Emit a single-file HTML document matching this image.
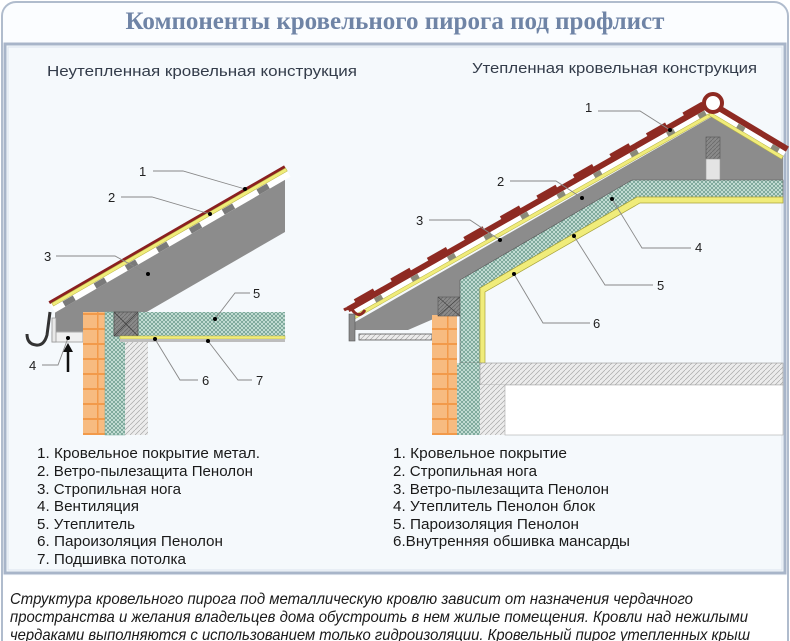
<!DOCTYPE html>
<html><head><meta charset="utf-8">
<style>
html,body{margin:0;padding:0;background:#fff;}
svg{display:block;}
</style></head><body>
<svg width="790" height="641" viewBox="0 0 790 641" xmlns="http://www.w3.org/2000/svg">
<defs>
<pattern id="cross" width="4" height="4" patternUnits="userSpaceOnUse">
<rect width="4" height="4" fill="#d2e8e0"/>
<path d="M0,0L4,4M4,0L0,4" stroke="#6f9e90" stroke-width="0.8"/>
</pattern>
<pattern id="hatch" width="5" height="5" patternUnits="userSpaceOnUse">
<rect width="5" height="5" fill="#ececec"/>
<path d="M0,5L5,0" stroke="#a8a8a8" stroke-width="0.7"/>
</pattern>
<pattern id="brick" width="25" height="15" patternUnits="userSpaceOnUse">
<rect width="25" height="15" fill="#f7bb80"/>
<rect x="0" y="13" width="25" height="2" fill="#f29a4a"/>
<rect x="22" y="0" width="1.5" height="15" fill="#f29a4a"/>
</pattern>
<pattern id="wood" width="4" height="4" patternUnits="userSpaceOnUse">
<rect width="4" height="4" fill="#8a8a8a"/>
<path d="M0,4L4,0" stroke="#6a6a6a" stroke-width="0.8"/>
</pattern>
</defs>

<rect x="0" y="0" width="790" height="641" fill="#fff"/>
<rect x="2" y="2" width="786" height="660" rx="14" fill="#fbfdff" stroke="#b0bccd" stroke-width="2"/>
<rect x="3" y="576" width="784" height="70" fill="#fff"/>
<text x="395" y="29" text-anchor="middle" font-family="Liberation Serif, serif" font-weight="bold" font-size="25" fill="#6f84a6">Компоненты кровельного пирога под профлист</text>
<rect x="5" y="44" width="780" height="529" fill="#f5f9fc" stroke="#a8b5c9" stroke-width="3"/>
<rect x="8" y="47" width="774" height="523" fill="none" stroke="#dbe3ee" stroke-width="1"/>

<text x="47" y="76" font-family="Liberation Sans, sans-serif" font-size="15" fill="#333c4a" textLength="310" lengthAdjust="spacingAndGlyphs">Неутепленная кровельная конструкция</text>
<text x="472" y="73" font-family="Liberation Sans, sans-serif" font-size="15" fill="#333c4a" textLength="285" lengthAdjust="spacingAndGlyphs">Утепленная кровельная конструкция</text>

<!-- LEFT DIAGRAM -->
<polygon points="55,311 285,179 285,232 112,332 55,332" fill="#8c8c8c"/>
<rect x="52" y="332" width="31" height="10" fill="#f0f0f0" stroke="#aaa" stroke-width="1"/>
<rect x="52" y="318" width="4" height="24" fill="#e8e8e8" stroke="#999" stroke-width="0.8"/>
<path d="M50,312 L47,335 Q44,346 36,345 Q27,344 27,334" fill="none" stroke="#333" stroke-width="3"/>
<g transform="translate(50,304) rotate(-30)">
<rect x="0" y="0" width="272" height="10" fill="#fff"/>
<rect x="0" y="-3" width="272" height="3" fill="#8a2020"/>
<rect x="2" y="0" width="270" height="3.5" fill="#f0ec7a" stroke="#b5b040" stroke-width="0.5"/>
<rect x="12" y="4" width="12" height="6" fill="#7a7a7a"/>
<rect x="48" y="4" width="12" height="6" fill="#7a7a7a"/>
<rect x="84" y="4" width="12" height="6" fill="#7a7a7a"/>
<rect x="120" y="4" width="12" height="6" fill="#7a7a7a"/>
<rect x="158" y="4" width="12" height="6" fill="#7a7a7a"/>
<rect x="196" y="4" width="12" height="6" fill="#7a7a7a"/>
<rect x="236" y="4" width="12" height="6" fill="#7a7a7a"/>
</g>
<rect x="83" y="312" width="22" height="123" fill="url(#brick)"/>
<rect x="105" y="312" width="20" height="123" fill="url(#cross)" stroke="#7a9" stroke-width="0.5"/>
<rect x="125" y="341" width="23" height="94" fill="url(#hatch)"/>
<rect x="138" y="312" width="147" height="24" fill="url(#cross)"/>
<rect x="114" y="312" width="24" height="24" fill="url(#wood)" stroke="#555" stroke-width="0.8"/>
<path d="M114,312L138,336M138,312L114,336" stroke="#444" stroke-width="0.8"/>
<rect x="120" y="336" width="165" height="3" fill="#f0ec7a" stroke="#b5b040" stroke-width="0.5"/>
<rect x="120" y="339" width="165" height="3" fill="#bdbdbd"/>
<line x1="68" y1="372" x2="68" y2="350" stroke="#111" stroke-width="2.5"/>
<polygon points="63,352 68,343 73,352" fill="#111"/>
<g stroke="#888" stroke-width="0.9" fill="none">
<polyline points="153,171 183,171 245,189"/>
<polyline points="121,197 152,197 210,214"/>
<polyline points="56,256 115,256 148,274"/>
<polyline points="42,365 58,365 68,338"/>
<polyline points="250,293 235,293 215,319"/>
<polyline points="198,380 180,380 155,339"/>
<polyline points="252,380 238,380 208,341"/>
</g>
<g fill="#000"><circle cx="245" cy="189" r="2"/><circle cx="210" cy="214" r="2"/><circle cx="148" cy="274" r="2"/><circle cx="68" cy="338" r="2"/><circle cx="215" cy="319" r="2"/><circle cx="155" cy="339" r="2"/><circle cx="208" cy="341" r="2"/></g>
<g font-family="Liberation Sans, sans-serif" font-size="13" fill="#222">
<text x="139" y="176">1</text><text x="108" y="202">2</text><text x="44" y="261">3</text><text x="29" y="370">4</text>
<text x="253" y="298">5</text><text x="202" y="385">6</text><text x="256" y="385">7</text>
</g>

<!-- RIGHT DIAGRAM -->
<polygon points="355,322 713,116 783,156 783,180 632,180 460,280 460,297 438,297 438,317 408,330 355,330" fill="#8c8c8c"/>
<rect x="706" y="137" width="14" height="22" fill="url(#wood)" stroke="#555" stroke-width="0.6"/>
<rect x="706" y="159" width="14" height="21" fill="#e4e4e4" stroke="#999" stroke-width="0.6"/>
<g transform="translate(350,313) rotate(-29.6)">
<rect x="0" y="-7" width="416" height="6" fill="#8e2a22"/>
<rect x="0" y="-1" width="416" height="8" fill="#fff"/>
<rect x="2" y="4" width="414" height="3.5" fill="#f0ec7a" stroke="#b5b040" stroke-width="0.5"/>
<g fill="#8e2a22">
<rect x="10" y="-10" width="22" height="4"/><rect x="52" y="-10" width="22" height="4"/><rect x="94" y="-10" width="22" height="4"/><rect x="136" y="-10" width="22" height="4"/><rect x="178" y="-10" width="22" height="4"/><rect x="220" y="-10" width="22" height="4"/><rect x="262" y="-10" width="22" height="4"/><rect x="304" y="-10" width="22" height="4"/><rect x="346" y="-10" width="22" height="4"/><rect x="388" y="-10" width="22" height="4"/>
</g>
<g fill="#8a8a7a">
<rect x="28" y="-1" width="8" height="5"/><rect x="70" y="-1" width="8" height="5"/><rect x="112" y="-1" width="8" height="5"/><rect x="154" y="-1" width="8" height="5"/><rect x="196" y="-1" width="8" height="5"/><rect x="238" y="-1" width="8" height="5"/><rect x="280" y="-1" width="8" height="5"/><rect x="322" y="-1" width="8" height="5"/><rect x="364" y="-1" width="8" height="5"/><rect x="400" y="-1" width="8" height="5"/>
</g>
</g>
<g transform="translate(713,108) rotate(31)">
<rect x="0" y="-6" width="85" height="6" fill="#8e2a22"/>
<rect x="0" y="0" width="85" height="8" fill="#fff"/>
<rect x="0" y="5" width="85" height="3.5" fill="#f0ec7a" stroke="#b5b040" stroke-width="0.5"/>
<rect x="30" y="0" width="8" height="5" fill="#8a8a7a"/><rect x="70" y="0" width="8" height="5" fill="#8a8a7a"/>
</g>
<circle cx="713" cy="103" r="9" fill="#fff" stroke="#8e2a22" stroke-width="4"/>
<path d="M344,310 Q350,306 354,312 Q360,318 365,310" fill="none" stroke="#8e2a22" stroke-width="3"/>
<rect x="349" y="314" width="6" height="27" fill="#8a8a8a" stroke="#555" stroke-width="0.6"/>
<rect x="359" y="334" width="73" height="6" fill="url(#hatch)" stroke="#555" stroke-width="0.8"/>
<rect x="432" y="315" width="25" height="120" fill="url(#brick)"/>
<rect x="438" y="297" width="22" height="19" fill="url(#wood)" stroke="#555" stroke-width="0.6"/>
<path d="M438,297L460,316M460,297L438,316" stroke="#444" stroke-width="0.7"/>
<polygon points="460,280 632,180 783,180 783,197 637,197 480,288 480,363 460,363" fill="url(#cross)" stroke="#555" stroke-width="0.6"/>
<rect x="457" y="363" width="23" height="72" fill="url(#cross)"/>
<polygon points="480,288 637,197 783,197 783,203 640,203 485,292 485,363 480,363" fill="#f0ec7a" stroke="#a8a33a" stroke-width="0.7"/>
<rect x="480" y="363" width="303" height="22" fill="url(#hatch)" stroke="#999" stroke-width="0.6"/>
<rect x="480" y="385" width="25" height="50" fill="url(#hatch)"/>
<rect x="505" y="385" width="278" height="50" fill="#fff" stroke="#aaa" stroke-width="0.6"/>
<g stroke="#888" stroke-width="0.9" fill="none">
<polyline points="598,111 640,111 670,130"/>
<polyline points="510,181 556,181 582,198"/>
<polyline points="429,220 470,220 500,240"/>
<polyline points="691,248 642,248 612,199"/>
<polyline points="653,285 605,285 574,236"/>
<polyline points="590,323 543,323 514,274"/>
</g>
<g fill="#000"><circle cx="670" cy="130" r="2"/><circle cx="582" cy="198" r="2"/><circle cx="500" cy="240" r="2"/><circle cx="612" cy="199" r="2"/><circle cx="574" cy="236" r="2"/><circle cx="514" cy="274" r="2"/></g>
<g font-family="Liberation Sans, sans-serif" font-size="13" fill="#222">
<text x="585" y="112">1</text><text x="497" y="186">2</text><text x="416" y="225">3</text>
<text x="695" y="252">4</text><text x="657" y="290">5</text><text x="593" y="328">6</text>
</g>

<g font-family="Liberation Sans, sans-serif" font-size="15" fill="#1a1a1a">
<text x="37" y="458" textLength="223" lengthAdjust="spacingAndGlyphs">1. Кровельное покрытие метал.</text>
<text x="37" y="476" textLength="216" lengthAdjust="spacingAndGlyphs">2. Ветро-пылезащита Пенолон</text>
<text x="37" y="494" textLength="144" lengthAdjust="spacingAndGlyphs">3. Стропильная нога</text>
<text x="37" y="511" textLength="102" lengthAdjust="spacingAndGlyphs">4. Вентиляция</text>
<text x="37" y="529" textLength="98" lengthAdjust="spacingAndGlyphs">5. Утеплитель</text>
<text x="37" y="546" textLength="186" lengthAdjust="spacingAndGlyphs">6. Пароизоляция Пенолон</text>
<text x="37" y="564" textLength="149" lengthAdjust="spacingAndGlyphs">7. Подшивка потолка</text>
<text x="393" y="458" textLength="174" lengthAdjust="spacingAndGlyphs">1. Кровельное покрытие</text>
<text x="393" y="476" textLength="144" lengthAdjust="spacingAndGlyphs">2. Стропильная нога</text>
<text x="393" y="494" textLength="216" lengthAdjust="spacingAndGlyphs">3. Ветро-пылезащита Пенолон</text>
<text x="393" y="511" textLength="202" lengthAdjust="spacingAndGlyphs">4. Утеплитель Пенолон блок</text>
<text x="393" y="529" textLength="186" lengthAdjust="spacingAndGlyphs">5. Пароизоляция Пенолон</text>
<text x="393" y="546" textLength="237" lengthAdjust="spacingAndGlyphs">6.Внутренняя обшивка мансарды</text>
</g>

<g font-family="Liberation Sans, sans-serif" font-style="italic" font-size="16" fill="#1a1a1a">
<text x="10" y="604" textLength="683" lengthAdjust="spacingAndGlyphs">Структура кровельного пирога под металлическую кровлю зависит от назначения чердачного</text>
<text x="10" y="622" textLength="738" lengthAdjust="spacingAndGlyphs">пространства и желания владельцев дома обустроить в нем жилые помещения. Кровли над нежилыми</text>
<text x="10" y="640" textLength="740" lengthAdjust="spacingAndGlyphs">чердаками выполняются с использованием только гидроизоляции. Кровельный пирог утепленных крыш</text>
</g>
</svg>
</body></html>
